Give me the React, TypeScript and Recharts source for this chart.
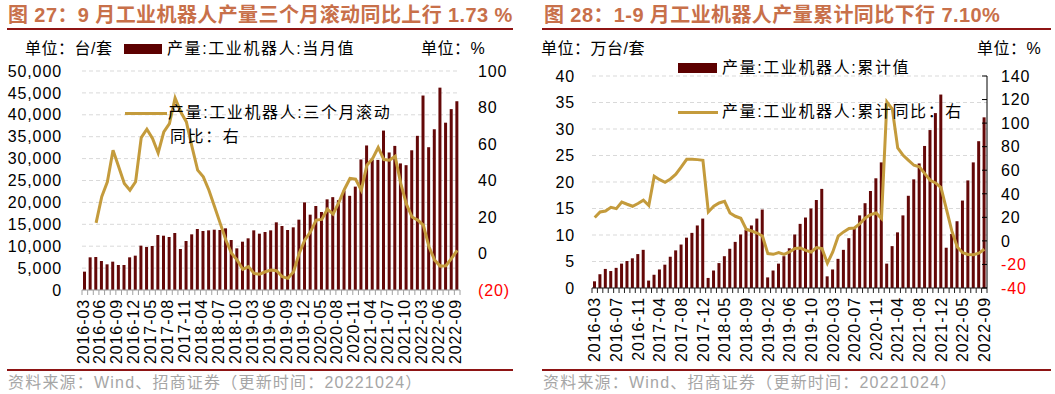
import { ComposedChart, Bar, Line, XAxis, YAxis, CartesianGrid } from 'recharts'

// 图27: 当月产量 (台/套) 与三个月滚动同比 (%)
const monthlyCats = [
  '2016-03', '2016-04', '2016-05', '2016-06', '2016-07', '2016-08', '2016-09', '2016-10', '2016-11', '2016-12',
  '2017-03', '2017-04', '2017-05', '2017-06', '2017-07', '2017-08', '2017-09', '2017-10', '2017-11', '2017-12',
  '2018-03', '2018-04', '2018-05', '2018-06', '2018-07', '2018-08', '2018-09', '2018-10', '2018-11', '2018-12',
  '2019-03', '2019-04', '2019-05', '2019-06', '2019-07', '2019-08', '2019-09', '2019-10', '2019-11', '2019-12',
  '2020-03', '2020-04', '2020-05', '2020-06', '2020-07', '2020-08', '2020-09', '2020-10', '2020-11', '2020-12',
  '2021-03', '2021-04', '2021-05', '2021-06', '2021-07', '2021-08', '2021-09', '2021-10', '2021-11', '2021-12',
  '2022-03', '2022-04', '2022-05', '2022-06', '2022-07', '2022-08', '2022-09',
]
const monthlyOutput = [
  4190, 7460, 7530, 6620, 5860, 6470, 5710, 5710, 7460, 7840,
  10120, 9820, 10050, 12560, 12400, 12100, 13010, 9360, 11190, 12710,
  13930, 13470, 13620, 13770, 13700, 14080, 11420, 9510, 11030, 11800,
  13620, 12860, 13240, 13620, 15450, 14610, 13700, 14310, 16060, 20010,
  17200, 19180, 17810, 20700, 21200, 20500, 22700, 21500, 23600, 29800,
  33000, 29700, 29700, 36400, 31400, 32900, 28900, 28500, 31900, 35200,
  44400, 32600, 36700, 46200, 38200, 41300, 43100,
]
const rolling3mYoy = [
  null, null, 16.8, 31.1, 39.3, 56.6, 47.5, 38.4, 34.7, 39.3,
  63.5, 68.1, 63, 55.1, 66.6, 71.2, 85.2, 77.6, 72.1, 58.4,
  45.7, 42, 34.7, 25.6, 16.5, 7.4, 0.1, -3.6, -8.7, -7.2,
  -10.9, -11.3, -10, -9.1, -9.4, -12.7, -13.6, -10, 0.1, 7.4,
  11.9, 18.3, 18.7, 24.3, 21.6, 27.8, 35.1, 41.1, 40.7, 34.7,
  48.4, 52, 58.1, 51.5, 51.1, 53.3, 38.4, 27, 20, 18.3,
  15.6, 3.7, -3.6, -6.9, -6.7, -2.7, 1.73,
]

// 图28: 累计产量 (万台/套) 与累计同比 (%)
const cumCats = [
  '2016-03', '2016-04', '2016-05', '2016-06', '2016-07', '2016-08', '2016-09', '2016-10', '2016-11', '2016-12',
  '2017-02', '2017-03', '2017-04', '2017-05', '2017-06', '2017-07', '2017-08', '2017-09', '2017-10', '2017-11', '2017-12',
  '2018-02', '2018-03', '2018-04', '2018-05', '2018-06', '2018-07', '2018-08', '2018-09', '2018-10', '2018-11', '2018-12',
  '2019-02', '2019-03', '2019-04', '2019-05', '2019-06', '2019-07', '2019-08', '2019-09', '2019-10', '2019-11', '2019-12',
  '2020-02', '2020-03', '2020-04', '2020-05', '2020-06', '2020-07', '2020-08', '2020-09', '2020-10', '2020-11', '2020-12',
  '2021-02', '2021-03', '2021-04', '2021-05', '2021-06', '2021-07', '2021-08', '2021-09', '2021-10', '2021-11', '2021-12',
  '2022-02', '2022-03', '2022-04', '2022-05', '2022-06', '2022-07', '2022-08', '2022-09',
]
const cumOutput = [
  1.26, 2.6, 3.6, 3.2, 3.8, 4.6, 5.1, 5.6, 6.4, 7.2,
  1.4, 2.5, 3.5, 4.4, 5.9, 7.1, 8.2, 9.5, 10.4, 11.8, 13.1,
  1.9, 3.3, 4.7, 6.0, 7.4, 8.7, 10.1, 11.0, 11.8, 13.1, 14.8,
  2.0, 3.3, 4.6, 6.0, 7.5, 10.1, 12.1, 13.3, 15.0, 16.6, 18.7,
  2.2, 3.5, 5.5, 7.2, 9.4, 11.5, 13.7, 16.0, 18.3, 20.7, 23.7,
  4.6, 7.9, 10.5, 13.7, 17.4, 20.5, 23.5, 26.8, 29.8, 33.0, 36.5,
  7.6, 10.2, 12.6, 16.5, 20.3, 23.7, 27.7, 32.2,
]
const cumYoy = [
  19.8, 24.6, 25.4, 28.5, 27.4, 33, 31.1, 29.4, 31.7, 34.5,
  30, 54.9, 52, 49.8, 52.6, 56.6, 62.8, 69.3, 69.3, 69, 68.4,
  24.6, 29.4, 32.2, 33.6, 23.7, 20.9, 19.2, 9.9, 8.4, 6.7, 4.2,
  -10.8, -11.4, -9.9, -11.4, -9.4, -6.5, -6, -8, -9.4, -5.7, -6.5,
  -19, -9.4, 4, 7.6, 10.5, 11, 14.7, 19.5, 22.3, 23.7, 19,
  118, 112, 79, 72.7, 68.4, 64.2, 62.8, 57.1, 51.5, 49.2, 45.3,
  27, 8.5, -5.2, -10, -11.5, -11.8, -10.5, -7.1,
]

const leftUnitTicks = [0, 5000, 10000, 15000, 20000, 25000, 30000, 35000, 40000, 45000, 50000]
const leftPctTicks = [-20, 0, 20, 40, 60, 80, 100]
const rightUnitTicks = [0, 5, 10, 15, 20, 25, 30, 35, 40]
const rightPctTicks = [-40, -20, 0, 20, 40, 60, 80, 100, 120, 140]

const BAR = '#640808'
const GOLD = '#C49B3C'
const TITLE = '#C8704A'
const RULE = '#8E1414'
const NUM = '"Liberation Sans", Arial, "Noto Sans CJK SC", sans-serif'
const CJK = '"Noto Sans CJK SC", sans-serif'

const monthlyData = monthlyCats.map((m, i) => ({ m, v: monthlyOutput[i], y: rolling3mYoy[i] }))
const cumData = cumCats.map((m, i) => ({ m, v: cumOutput[i], y: cumYoy[i] }))

function MonthTick(props: any) {
  const { x, y, payload, every, band, color, cats, shift } = props
  const i = cats.indexOf(payload.value)
  const count = cats.length
  return (
    <g>
      <line x1={x - band / 2} y1={y} x2={x - band / 2} y2={y + 5} stroke={color} strokeWidth={1} />
      {i === count - 1 && (
        <line x1={x + band / 2} y1={y} x2={x + band / 2} y2={y + 5} stroke={color} strokeWidth={1} />
      )}
      {i % every === 0 && (
        <text
          x={x + shift}
          y={y + 9}
          transform={`rotate(-90 ${x + shift} ${y + 9})`}
          textAnchor="end"
          dy="0.36em"
          fontSize={16}
          letterSpacing={0.9}
          fontFamily={NUM}
          fill="#000"
        >
          {payload.value}
        </text>
      )}
    </g>
  )
}

function PctTick(props: any) {
  const { x, y, payload, paren, inward, offset } = props
  const v = payload.value
  const neg = v < 0
  const label = neg && paren ? `(${-v})` : String(v)
  return (
    <g>
      {inward && <line x1={x - 5} y1={y} x2={x} y2={y} stroke="#000" />}
      <text x={x + offset} y={y} dy="0.36em" textAnchor="start" fontSize={16} letterSpacing={0.9} fontFamily={NUM} fill={neg ? '#FF0000' : '#000'}>
        {label}
      </text>
    </g>
  )
}

function Txt({ left, top, size = 16, spacing = 1.6, color = '#000', weight = 400, children }: any) {
  return (
    <div
      style={{
        position: 'absolute',
        left,
        top: top - 12,
        height: 24,
        lineHeight: '24px',
        fontSize: size,
        letterSpacing: spacing,
        color,
        fontWeight: weight,
        fontFamily: NUM,
        whiteSpace: 'nowrap',
      }}
    >
      {children}
    </div>
  )
}

function Box({ left, top, width, height, color }: any) {
  return <div style={{ position: 'absolute', left, top, width, height, background: color }} />
}

export default function App() {
  return (
    <div style={{ position: 'absolute', left: 0, top: 0, width: 1055, height: 394, background: '#fff', overflow: 'hidden', fontFamily: CJK }}>
      {/* titles */}
      <Txt left={8} top={15} size={20} spacing={0.4} color={TITLE} weight={700}>图 27：9 月工业机器人产量三个月滚动同比上行 1.73 %</Txt>
      <Txt left={544} top={15} size={20} spacing={0.4} color={TITLE} weight={700}>图 28：1-9 月工业机器人产量累计同比下行 7.10%</Txt>
      <Box left={7} top={28} width={506} height={2} color={RULE} />
      <Box left={542} top={28} width={509} height={2} color={RULE} />

      {/* left chart */}
      <div style={{ position: 'absolute', left: 0, top: 0 }}>
        <ComposedChart width={530} height={370} data={monthlyData} margin={{ top: 71, right: 0, bottom: 0, left: 0 }} barCategoryGap={0}>
          <CartesianGrid yAxisId="l" vertical={false} stroke="#D9D9D9" strokeDasharray="4 3" />
          <XAxis
            dataKey="m"
            height={80}
            interval={0}
            tickSize={0}
            tickMargin={0}
            tickLine={false}
            axisLine={{ stroke: '#A0A0A0' }}
            tick={(p: any) => <MonthTick {...p} every={3} band={378 / 67} color="#A0A0A0" cats={monthlyCats} shift={-2} />}
          />
          <YAxis
            yAxisId="l"
            width={82}
            domain={[0, 50000]}
            ticks={leftUnitTicks}
            interval={0}
            axisLine={false}
            tickLine={false}
            tickSize={0}
            tickMargin={20}
            tick={{ fontSize: 16, fill: '#000', fontFamily: NUM, letterSpacing: 0.9 }}
            tickFormatter={(v) => Number(v).toLocaleString('en-US')}
          />
          <YAxis
            yAxisId="r"
            orientation="right"
            width={70}
            domain={[-20, 100]}
            ticks={leftPctTicks}
            interval={0}
            axisLine={false}
            tickLine={false}
            tickSize={0}
            tickMargin={0}
            tick={(p: any) => <PctTick {...p} paren offset={18} />}
          />
          <Bar yAxisId="l" dataKey="v" fill={BAR} barSize={3} isAnimationActive={false} />
          <Line yAxisId="r" dataKey="y" stroke={GOLD} strokeWidth={3} dot={false} type="linear" isAnimationActive={false} />
        </ComposedChart>
      </div>

      {/* right chart */}
      <div style={{ position: 'absolute', left: 530, top: 0 }}>
        <ComposedChart width={525} height={370} data={cumData} margin={{ top: 76, right: 0, bottom: 0, left: 0 }} barCategoryGap={0}>
          <CartesianGrid yAxisId="l" vertical={false} stroke="#D9D9D9" strokeDasharray="4 3" />
          <XAxis
            dataKey="m"
            height={82}
            interval={0}
            tickSize={0}
            tickMargin={0}
            tickLine={false}
            axisLine={{ stroke: '#222' }}
            tick={(p: any) => <MonthTick {...p} every={4} band={395 / 73} color="#222" cats={cumCats} shift={0} />}
          />
          <YAxis
            yAxisId="l"
            width={62}
            domain={[0, 40]}
            ticks={rightUnitTicks}
            interval={0}
            axisLine={false}
            tickLine={false}
            tickSize={0}
            tickMargin={17}
            tick={{ fontSize: 16, fill: '#000', fontFamily: NUM, letterSpacing: 0.9 }}
          />
          <YAxis
            yAxisId="r"
            orientation="right"
            width={68}
            domain={[-40, 140]}
            ticks={rightPctTicks}
            interval={0}
            axisLine={{ stroke: '#000' }}
            tickLine={false}
            tickSize={0}
            tickMargin={0}
            tick={(p: any) => <PctTick {...p} inward offset={14} />}
          />
          <Bar yAxisId="l" dataKey="v" fill={BAR} barSize={3} isAnimationActive={false} />
          <Line yAxisId="r" dataKey="y" stroke={GOLD} strokeWidth={3} dot={false} type="linear" isAnimationActive={false} />
        </ComposedChart>
      </div>

      {/* units and legends, left */}
      <Txt left={25} top={49} spacing={0.5}>单位：台/套</Txt>
      <Box left={124} top={44} width={38} height={10} color="#5C0000" />
      <Txt left={167} top={49}>产量:工业机器人:当月值</Txt>
      <Txt left={421} top={49} spacing={0.5}>单位：%</Txt>
      <Box left={125} top={112} width={42} height={3} color={GOLD} />
      <Txt left={168} top={113}>产量:工业机器人:三个月滚动</Txt>
      <Txt left={170} top={137}>同比：右</Txt>

      {/* units and legends, right */}
      <Txt left={541} top={49} spacing={0.5}>单位：万台/套</Txt>
      <Txt left={977} top={49} spacing={0.5}>单位：%</Txt>
      <Box left={678} top={63} width={39} height={10} color="#5C0000" />
      <Txt left={722} top={68}>产量:工业机器人:累计值</Txt>
      <Box left={678} top={111} width={40} height={3} color={GOLD} />
      <Txt left={722} top={112}>产量:工业机器人:累计同比：右</Txt>

      {/* footers */}
      <Box left={7} top={369} width={506} height={2} color={RULE} />
      <Box left={542} top={369} width={509} height={2} color={RULE} />
      <Txt left={8} top={383} spacing={1.2} color="#A6A6A6">资料来源：Wind、招商证券（更新时间：20221024）</Txt>
      <Txt left={543} top={383} spacing={1.2} color="#A6A6A6">资料来源：Wind、招商证券（更新时间：20221024）</Txt>
    </div>
  )
}
